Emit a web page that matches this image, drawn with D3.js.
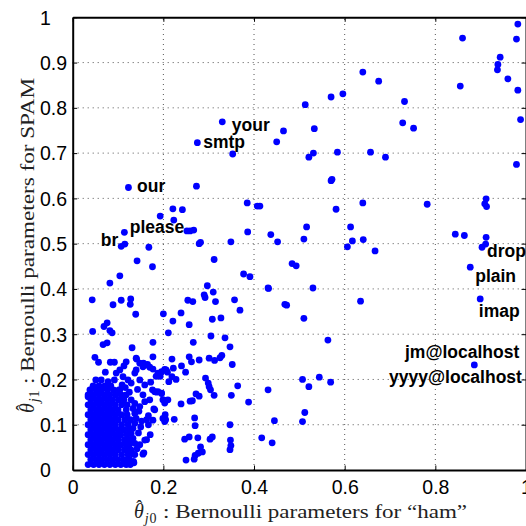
<!DOCTYPE html>
<html><head><meta charset="utf-8">
<script src="https://cdn.jsdelivr.net/npm/d3@7/dist/d3.min.js"></script>
<style>body{margin:0;background:#fff}svg{display:block}</style>
</head><body><svg id="chart" width="526" height="526"></svg>
<script>
// ---------- data ----------
const xTicks = [0, 0.2, 0.4, 0.6, 0.8, 1];
const yTicks = [0, 0.1, 0.2, 0.3, 0.4, 0.5, 0.6, 0.7, 0.8, 0.9, 1];

// [theta_j0 (ham), theta_j1 (spam)] for scattered words
const sparsePoints = [
  [0.330,0.769],[0.275,0.723],[0.353,0.698],[0.123,0.624],[0.273,0.627],[0.385,0.590],
  [0.407,0.583],[0.413,0.583],[0.193,0.561],[0.221,0.577],[0.242,0.575],[0.223,0.552],
  [0.114,0.525],[0.252,0.528],[0.259,0.528],[0.267,0.530],[0.386,0.526],[0.349,0.504],
  [0.279,0.500],[0.282,0.503],[0.107,0.494],[0.115,0.499],[0.168,0.492],[0.142,0.462],
  [0.312,0.465],[0.437,0.520],[0.176,0.449],[0.104,0.429],[0.082,0.413],[0.377,0.433],
  [0.391,0.427],[0.432,0.401],[0.297,0.407],[0.290,0.387],[0.292,0.381],[0.310,0.393],
  [0.315,0.372],[0.357,0.376],[0.369,0.353],[0.043,0.376],[0.089,0.365],[0.107,0.375],
  [0.128,0.378],[0.127,0.366],[0.139,0.344],[0.254,0.375],[0.265,0.372],[0.200,0.345],
  [0.239,0.347],[0.221,0.329],[0.257,0.321],[0.308,0.333],[0.327,0.336],[0.044,0.306],
  [0.069,0.317],[0.076,0.325],[0.082,0.308],[0.087,0.303],[0.211,0.303],[0.305,0.296],
  [0.336,0.292],[0.266,0.282],[0.347,0.272],[0.067,0.277],[0.076,0.281],[0.049,0.249],
  [0.057,0.238],[0.083,0.238],[0.092,0.238],[0.131,0.270],[0.177,0.282],[0.279,0.243],
  [0.325,0.248],[0.329,0.253],[0.352,0.233],[0.257,0.250],[0.262,0.239],[0.301,0.247],
  [0.313,0.242],[0.219,0.245],[0.222,0.225],[0.240,0.230],[0.249,0.216],[0.203,0.222],
  [0.209,0.216],[0.184,0.207],[0.193,0.207],[0.219,0.206],[0.228,0.200],[0.293,0.203],
  [0.299,0.192],[0.301,0.184],[0.304,0.177],[0.312,0.165],[0.272,0.168],[0.279,0.163],
  [0.364,0.186],[0.350,0.165],[0.388,0.150],[0.239,0.146],[0.259,0.152],[0.264,0.153],
  [0.196,0.170],[0.200,0.155],[0.203,0.148],[0.176,0.177],[0.185,0.172],[0.172,0.194],
  [0.177,0.223],[0.165,0.233],[0.270,0.098],[0.347,0.100],[0.269,0.115],[0.247,0.068],
  [0.257,0.073],[0.276,0.071],[0.303,0.068],[0.308,0.073],[0.348,0.066],[0.349,0.054],
  [0.347,0.045],[0.282,0.051],[0.286,0.040],[0.277,0.037],[0.270,0.032],[0.268,0.024],
  [0.250,0.022],[0.204,0.122],[0.205,0.111],[0.224,0.112],[0.179,0.135],[0.167,0.120],
  [0.163,0.111],[0.167,0.100],[0.171,0.078],[0.163,0.067],[0.157,0.038],[0.148,0.056],
  [0.137,0.034],[0.134,0.019],[0.114,0.017],[0.417,0.071],[0.440,0.060],[0.445,0.109],
  [0.431,0.177],[0.507,0.200],[0.521,0.184],[0.544,0.205],[0.569,0.194],[0.512,0.127],
  [0.507,0.107],[0.431,0.402],[0.530,0.402],[0.468,0.366],[0.472,0.364],[0.510,0.335],
  [0.563,0.287],[0.635,0.373],[0.484,0.456],[0.493,0.451],[0.452,0.504],[0.516,0.537],
  [0.510,0.510],[0.613,0.537],[0.617,0.506],[0.606,0.493],[0.641,0.509],[0.667,0.484],
  [0.581,0.576],[0.640,0.590],[0.572,0.642],[0.570,0.639],[0.531,0.700],[0.521,0.691],
  [0.584,0.702],[0.657,0.702],[0.690,0.691],[0.450,0.725],[0.465,0.749],[0.533,0.754],
  [0.513,0.807],[0.570,0.824],[0.596,0.831],[0.640,0.879],[0.675,0.859],[0.732,0.814],
  [0.728,0.767],[0.752,0.755],[0.782,0.587],[0.912,0.599],[0.909,0.588],[0.913,0.582],
  [0.844,0.521],[0.864,0.518],[0.912,0.514],[0.911,0.499],[0.903,0.492],[0.877,0.448],
  [0.899,0.378],[0.886,0.232],[0.982,0.985],[0.860,0.954],[0.979,0.952],[0.943,0.912],
  [0.938,0.896],[0.937,0.884],[0.960,0.864],[0.855,0.848],[0.982,0.839],[0.988,0.774],
  [0.979,0.675],
  // edge of the dense low-probability cluster
  [0.118,0.239],[0.113,0.230],[0.104,0.221],[0.096,0.214],[0.140,0.247],[0.148,0.236],
  [0.155,0.228],[0.162,0.232],[0.170,0.227],[0.177,0.250],[0.072,0.216],[0.051,0.199],
  [0.038,0.177],[0.034,0.162],[0.063,0.199],[0.078,0.195],[0.092,0.199],[0.111,0.206],
  [0.122,0.199],[0.129,0.192],[0.109,0.188],[0.104,0.177],[0.148,0.199],[0.159,0.188],
  [0.137,0.214],[0.140,0.221],[0.188,0.214],[0.196,0.217],[0.206,0.221],[0.212,0.195],
  [0.181,0.173],[0.188,0.173],[0.196,0.169],[0.199,0.155],[0.210,0.155],[0.155,0.166],
  [0.159,0.151],[0.170,0.155],[0.129,0.155],[0.137,0.147],[0.133,0.136],[0.137,0.125],
  [0.140,0.114],[0.137,0.103],[0.133,0.092],[0.129,0.081],[0.133,0.070],[0.137,0.059],
  [0.129,0.044],[0.133,0.035],[0.115,0.015],[0.118,0.022],[0.135,0.016],[0.155,0.035],
  [0.181,0.133],[0.177,0.110],[0.159,0.066],[0.199,0.114],[0.203,0.107],[0.141,0.245],
  [0.156,0.236],[0.146,0.130],[0.150,0.095],[0.145,0.082],[0.148,0.140],[0.125,0.172],
  [0.116,0.182],[0.143,0.178],[0.152,0.108],[0.142,0.047]
];

// dense core of the cluster: one spam value per row, ham values in that row
const clusterRowY = [0.012,0.023,0.034,0.045,0.056,0.067,0.078,0.089,0.100,0.111,0.122,0.133,0.144,0.155,0.166,0.177,0.186];
const clusterRowX = [
  [0.034,0.046,0.058,0.070,0.082,0.094,0.106,0.118,0.127],
  [0.040,0.052,0.064,0.076,0.088,0.100,0.113,0.125],
  [0.034,0.046,0.058,0.070,0.082,0.094,0.108,0.122],
  [0.040,0.052,0.064,0.076,0.088,0.100,0.114,0.126],
  [0.034,0.046,0.058,0.070,0.082,0.094,0.106,0.118,0.125],
  [0.040,0.052,0.064,0.076,0.088,0.100,0.114,0.126],
  [0.034,0.046,0.058,0.070,0.082,0.094,0.106,0.120],
  [0.040,0.052,0.064,0.076,0.088,0.100,0.112,0.124],
  [0.034,0.046,0.058,0.070,0.082,0.094,0.108,0.122],
  [0.040,0.052,0.064,0.076,0.088,0.100,0.115,0.127],
  [0.034,0.046,0.058,0.070,0.082,0.094,0.107,0.120],
  [0.040,0.052,0.064,0.076,0.088,0.100,0.118],
  [0.034,0.046,0.058,0.070,0.082,0.094,0.108,0.120],
  [0.040,0.052,0.064,0.076,0.088,0.101,0.113],
  [0.034,0.046,0.058,0.070,0.082,0.095,0.107,0.118],
  [0.040,0.052,0.064,0.077,0.090,0.102],
  [0.045,0.058,0.071,0.084]
];

const wordLabels = ["your","smtp","our","please","br","drop","plain","imap","jm@localhost","yyyy@localhost"];
const wordLabelX = [0.351,0.288,0.142,0.126,0.062,0.914,0.888,0.896,0.733,0.698];
const wordLabelY = [0.763,0.724,0.628,0.536,0.508,0.485,0.429,0.351,0.262,0.206];

// ---------- drawing ----------
const L = 72.7, R = 526, T = 17.3, B = 470;
const svg = d3.select("#chart");
const x = d3.scaleLinear().domain([0,1]).range([L,R]);
const y = d3.scaleLinear().domain([0,1]).range([B,T]);
const fmt = d => String(+d.toFixed(1));

// grid
const grid = svg.append("g").attr("stroke","#555").attr("stroke-width",1).attr("stroke-dasharray","1,4");
grid.selectAll("line.gx").data(xTicks.filter(d=>d>0&&d<1)).join("line").attr("class","gx")
  .attr("x1",d=>x(d)).attr("x2",d=>x(d)).attr("y1",B).attr("y2",T);
grid.selectAll("line.gy").data(yTicks.filter(d=>d>0&&d<1)).join("line").attr("class","gy")
  .attr("y1",d=>y(d)).attr("y2",d=>y(d)).attr("x1",L).attr("x2",R);

// points
const allPoints = sparsePoints.concat(clusterRowY.flatMap((yy,i)=>clusterRowX[i].map(xx=>[xx,yy])));
svg.append("g").attr("fill","#0000ff").selectAll("circle").data(allPoints).join("circle")
  .attr("cx",d=>x(d[0])).attr("cy",d=>y(d[1])).attr("r",3.4);

// axes
const sans = "'Liberation Sans', Arial, Helvetica, sans-serif";
const ax = svg.append("g").attr("transform",`translate(0,${B})`)
  .call(d3.axisBottom(x).tickValues(xTicks).tickFormat(fmt).tickSizeInner(-4.5).tickSizeOuter(0));
ax.select(".domain").attr("stroke","#000").attr("stroke-width",2);
ax.selectAll(".tick line").attr("stroke","#000");
ax.selectAll(".tick text").attr("y",24).attr("dy",0).attr("fill","#000")
  .style("font-family",sans).style("font-size","19.5px");

const ay = svg.append("g").attr("transform",`translate(${L},0)`)
  .call(d3.axisLeft(y).tickValues(yTicks).tickFormat(fmt).tickSizeInner(-4.5).tickSizeOuter(0));
ay.select(".domain").attr("stroke","#000").attr("stroke-width",2);
ay.selectAll(".tick line").attr("stroke","#000");
ay.selectAll(".tick text").attr("x",40-L).attr("text-anchor","start").attr("dy","0.35em").attr("fill","#000")
  .style("font-family",sans).style("font-size","19.5px");

// top & right frame with inward ticks
const at = svg.append("g").attr("transform",`translate(0,${T})`)
  .call(d3.axisTop(x).tickValues(xTicks).tickFormat("").tickSizeInner(-4.5).tickSizeOuter(0));
at.select(".domain").attr("stroke","#000").attr("stroke-width",2);
at.selectAll(".tick line").attr("stroke","#000");
const ar = svg.append("g").attr("transform",`translate(${R},0)`)
  .call(d3.axisRight(y).tickValues(yTicks).tickFormat("").tickSizeInner(-4.5).tickSizeOuter(0));
ar.select(".domain").attr("stroke","#000").attr("stroke-width",2);
ar.selectAll(".tick line").attr("stroke","#000");

// word labels
svg.append("g").selectAll("text").data(wordLabels).join("text")
  .attr("x",(d,i)=>x(wordLabelX[i])).attr("y",(d,i)=>y(wordLabelY[i])).attr("dy","0.35em")
  .style("font-family",sans).style("font-weight","bold").style("font-size","17.5px")
  .attr("fill","#000").text(d=>d);

// axis titles
const serif = "'Liberation Serif','Times New Roman',serif";
function title(g, sub, rest, restLen){
  const sym = g.append("text").attr("x",0).attr("y",0).style("font-family",serif).attr("fill","#222");
  sym.append("tspan").style("font-style","italic").style("font-size","20px").text("\u03B8");
  sym.append("tspan").attr("dx",-7.5).attr("dy",-5).style("font-size","18px").text("\u02C6");
  sym.append("tspan").attr("dx",2.5).attr("dy",10).style("font-style","italic").style("font-size","14px").text("j");
  sym.append("tspan").attr("dx",0.8).style("font-size","14px").text(sub);
  g.append("text").attr("x",29).attr("y",0).style("font-family",serif)
    .style("font-size","19.5px").attr("fill","#222")
    .attr("textLength",restLen).attr("lengthAdjust","spacingAndGlyphs").text(": " + rest);
}
title(svg.append("g").attr("transform","translate(134,518)"), "0", "Bernoulli parameters for \u201Cham\u201D", 304);
title(svg.append("g").attr("transform","translate(34,413) rotate(-90)"), "1", "Bernoulli parameters for SPAM", 306);
</script>
</body></html>
